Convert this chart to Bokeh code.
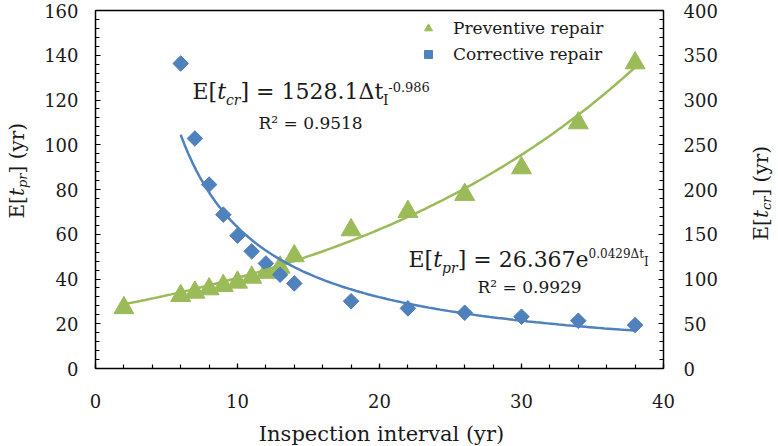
import numpy as np
from bokeh.plotting import figure
from bokeh.models import (Range1d, LinearAxis, SingleIntervalTicker, FixedTicker,
                          Label, Legend, LegendItem)
from bokeh.embed import file_html
from bokeh.resources import INLINE

# Inspection interval (yr) and expected time to preventive repair (yr)
interval_pr = [2, 6, 7, 8, 9, 10, 11, 12, 13, 14, 18, 22, 26, 30, 34, 38]
t_pr = [27.1, 32.5, 34.0, 35.5, 37.0, 38.5, 40.7, 42.9, 45.2, 50.3,
        61.9, 70.1, 77.7, 89.6, 109.7, 136.5]

# Inspection interval (yr) and expected time to corrective repair (yr)
interval_cr = [6, 7, 8, 9, 10, 11, 12, 13, 14, 18, 22, 26, 30, 34, 38]
t_cr = [340.8, 257.0, 205.5, 171.9, 148.4, 130.9, 117.4, 104.8, 95.1,
        75.2, 67.2, 62.3, 57.9, 53.4, 48.5]

# Fitted trend-line coefficients (as printed in the equations)
pr_a, pr_b = 26.367, 0.0429      # exponential fit
cr_a, cr_b = 1528.1, -0.986      # power fit
r2_pr, r2_cr = "0.9929", "0.9518"

series_names = ["Preventive repair", "Corrective repair"]

GREEN = "#9BBB59"
BLUE = "#4F81BD"
INK = "#1a1a1a"
FONT = "DejaVu Serif"

W, H = 778, 446
LEFT, RIGHT, TOP, BOTTOM = 95, 663, 10, 368     # plot area in canvas px
X0, X1 = 0, 40
Y0, Y1 = 0, 160
C0, C1 = 0, 400
BASE_SHIFT = 0.35     # em offset of Label's alphabetic anchor


def span(lo, hi, a, b, extent):
    # data range covering the whole canvas, with lo..hi mapped to pixels a..b
    k = (hi - lo) / (b - a)
    return Range1d(lo - a * k, lo + (extent - a) * k)


# The frame fills the whole canvas; the visible axes are pinned at the data
# limits so that every text (titles included) is drawn inside the frame.
xr = span(X0, X1, LEFT, RIGHT, W)
yr = span(Y0, Y1, H - BOTTOM, H - TOP, H)
cr = span(C0, C1, H - BOTTOM, H - TOP, H)

p = figure(width=W, height=H, x_range=xr, y_range=yr,
           x_axis_location=None, y_axis_location=None,
           output_backend="svg", toolbar_location=None,
           min_border=0, background_fill_color="white",
           border_fill_color="white")
p.extra_y_ranges = {"cr": cr}
for g in p.grid:
    g.visible = False
p.outline_line_color = None


def style_axis(ax, interval, standoff):
    ax.ticker = SingleIntervalTicker(interval=interval, num_minor_ticks=5)
    ax.axis_line_color = "black"
    ax.axis_line_width = 1.5
    ax.major_tick_in = 5
    ax.major_tick_out = 0
    ax.minor_tick_in = 4
    ax.minor_tick_out = 0
    ax.major_tick_line_color = "black"
    ax.minor_tick_line_color = "black"
    ax.major_tick_line_width = 1.2
    ax.minor_tick_line_width = 1.2
    ax.major_label_text_font = FONT
    ax.major_label_text_font_size = "18px"
    ax.major_label_text_color = INK
    ax.major_label_standoff = standoff


x_axis = LinearAxis(fixed_location=Y0, bounds=(X0, X1))
y_axis = LinearAxis(fixed_location=X0, bounds=(Y0, Y1))
r_axis = LinearAxis(fixed_location=X1, bounds=(C0, C1), y_range_name="cr")
style_axis(x_axis, 10, 25)
style_axis(y_axis, 20, 17)
style_axis(r_axis, 50, 20)
p.add_layout(x_axis, "below")
p.add_layout(y_axis, "left")
p.add_layout(r_axis, "right")

# top edge of the plot area
top_edge = LinearAxis(fixed_location=Y1, bounds=(X0, X1),
                      ticker=FixedTicker(ticks=[]),
                      axis_line_color="black", axis_line_width=1.5)
p.add_layout(top_edge, "above")

# data points
tri = p.scatter(interval_pr, t_pr, marker="triangle", size=20,
                fill_color=GREEN, line_color=GREEN)
dia = p.scatter(interval_cr, t_cr, marker="square", angle=np.pi / 4, size=11,
                fill_color=BLUE, line_color=BLUE, y_range_name="cr")

# trend lines from the fitted equations
fx_pr = np.linspace(min(interval_pr), max(interval_pr), 120)
p.line(fx_pr, pr_a * np.exp(pr_b * fx_pr), line_color=GREEN, line_width=2.5)
fx_cr = np.linspace(min(interval_cr), max(interval_cr), 120)
p.line(fx_cr, cr_a * fx_cr ** cr_b, line_color=BLUE, line_width=2.5,
       y_range_name="cr")

legend = Legend(items=[LegendItem(label=series_names[0], renderers=[tri]),
                       LegendItem(label=series_names[1], renderers=[dia])],
                location=(418, 379), padding=0, margin=0, spacing=0,
                glyph_width=20, glyph_height=26, label_height=26,
                label_standoff=15, border_line_color=None,
                background_fill_alpha=0, label_text_font=FONT,
                label_text_font_size="17px", label_text_color=INK)
p.add_layout(legend, "center")

# --- text with sub/superscripts, laid out run by run -----------------------
# advance widths of DejaVu Serif, in 1/1000 em
REG = {' ': 318, '(': 390, ')': 390, '[': 390, ']': 390, '=': 838, '-': 338,
       '.': 318, 'E': 730, 'R': 770, 'I': 372, 'y': 592, 'r': 478, 'e': 592,
       'Δ': 716, '²': 401, 't': 402, 'c': 560, 'p': 640}
REG.update({d: 636 for d in "0123456789"})
ITA = {'t': 402, 'c': 560, 'r': 478, 'p': 640}


def text_width(s, size, style):
    table = ITA if style == "italic" else REG
    return sum(table.get(ch, 600) for ch in s) * size / 1000.0


def to_x(px):
    return X0 + (px - LEFT) / (RIGHT - LEFT) * (X1 - X0)


def to_y(py):
    return Y0 + (BOTTOM - py) / (BOTTOM - TOP) * (Y1 - Y0)


def rich_text(runs, px, py, vertical=False):
    pos = 0.0
    for s, size, style, shift in runs:
        shift = shift - BASE_SHIFT * size
        if vertical:
            ax, ay = px + shift, py - pos
        else:
            ax, ay = px + pos, py + shift
        p.add_layout(Label(x=to_x(ax), y=to_y(ay), text=s, text_font=FONT,
                           text_font_size=f"{size}px", text_font_style=style,
                           text_color=INK, text_align="left",
                           text_baseline="alphabetic",
                           angle=np.pi / 2 if vertical else 0.0))
        pos += text_width(s, size, style)


# power-law fit for corrective repair
rich_text([("E[", 22, "normal", 0), ("t", 22, "italic", 0),
           ("cr", 14, "italic", 5), ("] = %.1fΔt" % cr_a, 22, "normal", 0),
           ("I", 14, "normal", 5), ("%.3f" % cr_b, 13, "normal", -8)],
          192, 99)
rich_text([("R² = " + r2_cr, 17, "normal", 0)], 258, 128)

# exponential fit for preventive repair
rich_text([("E[", 22, "normal", 0), ("t", 22, "italic", 0),
           ("pr", 14, "italic", 5), ("] = %.3fe" % pr_a, 22, "normal", 0),
           ("%.4fΔt" % pr_b, 12, "normal", -9), ("I", 12, "normal", -1)],
          408, 267)
rich_text([("R² = " + r2_pr, 17, "normal", 0)], 477, 292)

# axis titles
rich_text([("E[", 20, "normal", 0), ("t", 20, "italic", 0),
           ("pr", 13, "italic", 4), ("] (yr)", 20, "normal", 0)],
          23, 218, vertical=True)
rich_text([("E[", 20, "normal", 0), ("t", 20, "italic", 0),
           ("cr", 13, "italic", 4), ("] (yr)", 20, "normal", 0)],
          767, 240, vertical=True)
p.add_layout(Label(x=to_x(381), y=to_y(441 - BASE_SHIFT * 21),
                   text="Inspection interval (yr)",
                   text_font=FONT, text_font_size="21px", text_color=INK,
                   text_align="center", text_baseline="alphabetic"))

open("out.html", "w").write(file_html(p, INLINE))
